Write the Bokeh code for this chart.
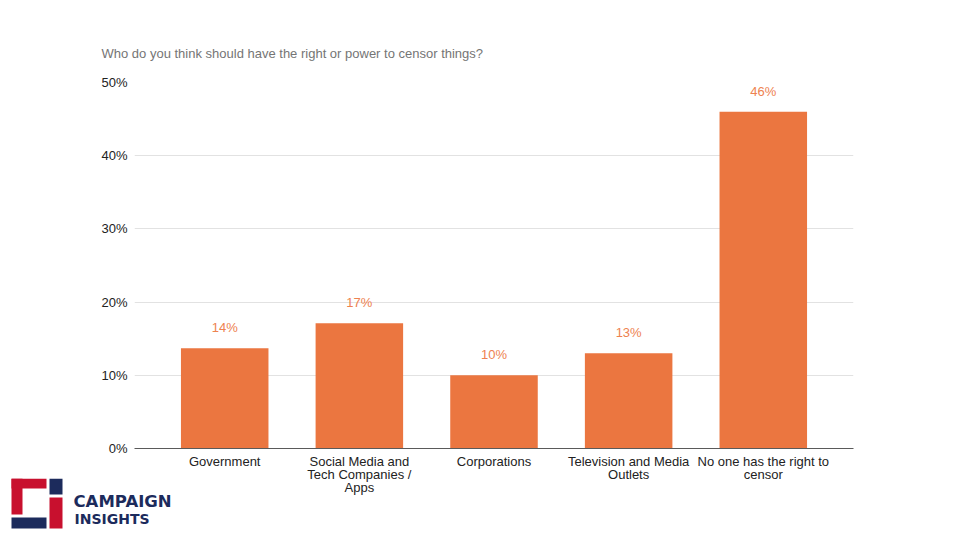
from bokeh.plotting import figure
from bokeh.models import (Range1d, FixedTicker, PrintfTickFormatter, ColumnDataSource)
from bokeh.core.properties import value
from bokeh.embed import file_html
from bokeh.resources import INLINE

title_text = "Who do you think should have the right or power to censor things?"
categories = ["Government", "Social Media and\nTech Companies /\nApps", "Corporations",
              "Television and Media\nOutlets", "No one has the right to\ncensor"]
values = [13.7, 17.1, 10.0, 13.0, 46.0]
value_labels = ["14%", "17%", "10%", "13%", "46%"]
y_ticks = [0, 10, 20, 30, 40, 50]
logo_words = ["CAMPAIGN", "INSIGHTS"]

ORANGE = "#eb7640"
LABEL_ORANGE = "#ee8250"
NAVY = "#1c2b5c"
RED = "#c8102e"
FONT = "Liberation Sans"
FS = "13px"

xs = list(range(len(categories)))
src = ColumnDataSource(dict(x=xs, top=values, lab=value_labels))

p = figure(width=960, height=540, output_backend="svg", toolbar_location=None,
           x_range=Range1d(-0.67, 4.67), y_range=Range1d(0, 50),
           min_border_left=134, min_border_right=107, min_border_top=82, min_border_bottom=92,
           frame_width=719, frame_height=366)
p.outline_line_color = None
p.background_fill_color = "white"
p.border_fill_color = "white"

p.title.text = title_text
p.title.align = "left"
p.title.offset = -33
p.title.standoff = 44
p.title.text_font = FONT
p.title.text_font_size = FS
p.title.text_font_style = "normal"
p.title.text_color = "#757575"

p.vbar(x="x", top="top", width=0.65, source=src, fill_color=ORANGE, line_color=None)
p.text(x="x", y="top", text="lab", source=src, text_align="center", text_baseline="bottom",
       y_offset=-13, text_font=value(FONT), text_font_size=FS, text_color=LABEL_ORANGE)

p.xgrid.visible = False
p.ygrid.grid_line_color = "#e2e2e2"
p.ygrid.ticker = FixedTicker(ticks=y_ticks)

ya = p.yaxis[0]
ya.ticker = FixedTicker(ticks=y_ticks)
ya.formatter = PrintfTickFormatter(format="%d%%")
ya.axis_line_color = None
ya.major_tick_line_color = None
ya.minor_tick_line_color = None
ya.major_tick_out = 0
ya.minor_tick_out = 0
ya.major_label_standoff = 7
ya.major_label_text_font = FONT
ya.major_label_text_font_size = FS
ya.major_label_text_color = "#222222"

xa = p.xaxis[0]
xa.ticker = FixedTicker(ticks=xs)
xa.major_label_overrides = {i: c for i, c in enumerate(categories)}
xa.axis_line_color = "#5a5a5a"
xa.major_tick_line_color = None
xa.minor_tick_line_color = None
xa.major_tick_out = 0
xa.minor_tick_out = 0
xa.major_label_standoff = 5
xa.major_label_text_font = FONT
xa.major_label_text_font_size = FS
xa.major_label_text_color = "#222222"
xa.major_label_text_line_height = 0.88

# logo (decoration): separate root figure, absolutely placed at the bottom-left
lg = figure(frame_width=180, frame_height=62, output_backend="svg", toolbar_location=None,
            x_range=Range1d(0, 180), y_range=Range1d(62, 0),
            min_border=0, x_axis_type=None, y_axis_type=None)
lg.grid.visible = False
lg.outline_line_color = None
lg.background_fill_alpha = 0
lg.border_fill_alpha = 0
lg.styles = {"position": "absolute", "left": "0px", "top": "478px", "z-index": "10"}
lg.quad(left=[11, 11, 11, 49, 49], right=[46, 22, 46, 62, 62],
        top=[0, 0, 39, 0, 19], bottom=[10, 36, 50, 16, 50],
        fill_color=[RED, RED, NAVY, NAVY, RED], line_color=None)
lg.text(x=[73, 74], y=[13, 32], text=logo_words, text_baseline="top",
        text_font=value("DejaVu Sans"), text_font_style="bold",
        text_font_size=["16.5px", "14px"], text_color=NAVY)

open("out.html", "w").write(file_html([p, lg], INLINE))
